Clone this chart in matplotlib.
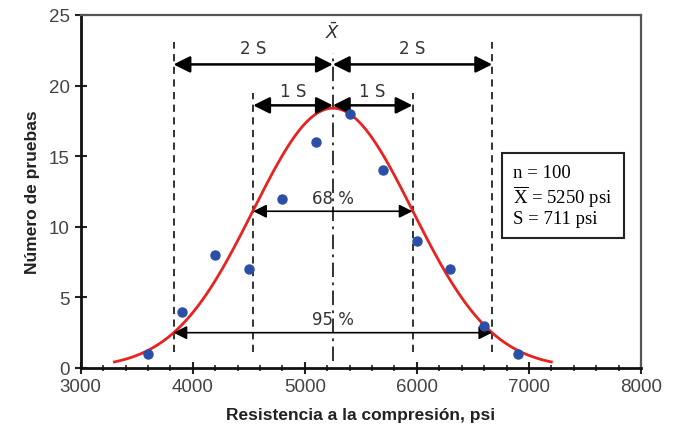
import matplotlib.pyplot as plt
import numpy as np
from matplotlib.ticker import MultipleLocator

# observed counts per strength class
strength = [3600, 3900, 4200, 4500, 4800, 5100, 5400, 5700, 6000, 6300, 6600, 6900]
n_tests = [1, 4, 8, 7, 12, 16, 18, 14, 9, 7, 3, 1]

# stats printed on the chart
n_total = 100
mean = 5250
s = 711
peak = 18.4          # curve height
curve_lo, curve_hi = 3300, 7200

fig = plt.figure(figsize=(6.75, 4.31), dpi=100)
ax = fig.add_axes([0.1196, 0.1439, 0.8300, 0.8190])

xs = np.linspace(curve_lo, curve_hi, 400)
ax.plot(xs, peak * np.exp(-0.5 * ((xs - mean) / s) ** 2), color='#e8231f', lw=2, zorder=3)
ax.plot(strength, n_tests, 'o', color='#2b4fa6', ms=6.5, zorder=4)

# vertical guides
for k in (-2, 2):
    ax.plot([mean + k * s] * 2, [1.1, 23.1], ls=(0, (4, 3)), color='#222222', lw=1.3)
for k in (-1, 1):
    ax.plot([mean + k * s] * 2, [1.1, 19.5], ls=(0, (4, 3)), color='#222222', lw=1.3)
ax.plot([mean, mean], [0.5, 22.3], ls=(0, (8, 3, 1.5, 3)), color='#222222', lw=1.3)

def darrow(x0, x1, y, lw=1.8, hw=0.5, hl=1.0):
    ax.annotate('', xy=(x1, y), xytext=(x0, y),
                arrowprops=dict(arrowstyle='<|-|>,head_width=%s,head_length=%s' % (hw, hl),
                                color='black', lw=lw, shrinkA=0, shrinkB=0))

darrow(mean - 2 * s, mean, 21.5)
darrow(mean, mean + 2 * s, 21.5)
darrow(mean - s, mean, 18.6)
darrow(mean, mean + s, 18.6)
darrow(mean - s, mean + s, 11.1, lw=1.2, hw=0.4, hl=0.8)
darrow(mean - 2 * s, mean + 2 * s, 2.5, lw=1.2, hw=0.4, hl=0.8)

lab = dict(ha='center', va='bottom', color='#333333', fontsize=12, family='DejaVu Sans')
ax.text(mean - s, 22.0, '2 S', **lab)
ax.text(mean + s, 22.0, '2 S', **lab)
ax.text(mean - s / 2, 19.0, '1 S', **lab)
ax.text(mean + s / 2, 19.0, '1 S', **lab)
ax.text(mean, 11.4, '68 %', **lab)
ax.text(mean, 2.8, '95 %', **lab)
ax.text(mean, 23.1, r'$\bar{X}$', ha='center', va='bottom', fontsize=13, color='#333333')

ax.text(6860, 12.2,
        'n = %d\n' % n_total + r'$\mathregular{\overline{X}}$' + ' = %d psi\nS = %d psi' % (mean, s),
        family='Liberation Serif', fontsize=13.5, va='center', ha='left', linespacing=1.1,
        bbox=dict(boxstyle='square,pad=0.6', fc='white', ec='#222222', lw=1.5))

ax.set_xlim(3000, 8000)
ax.set_ylim(0, 25)
ax.xaxis.set_major_locator(MultipleLocator(1000))
ax.xaxis.set_minor_locator(MultipleLocator(200))
ax.yaxis.set_major_locator(MultipleLocator(5))
ax.tick_params(axis='both', which='major', direction='inout', length=9, width=1.5,
               labelsize=13.5, labelcolor='#444444', color='#222222')
ax.tick_params(axis='x', which='minor', direction='inout', length=4, width=1.2, color='#222222')
ax.tick_params(axis='x', pad=3)
for side in ('left', 'bottom'):
    ax.spines[side].set_linewidth(2)
    ax.spines[side].set_color('#111111')
for side in ('top', 'right'):
    ax.spines[side].set_linewidth(1.6)
    ax.spines[side].set_color('#555555')

ax.set_xlabel('Resistencia a la compresión, psi', fontsize=12.5, fontweight='bold',
              family='Liberation Sans', color='#222222', labelpad=8)
ax.set_ylabel('Número de pruebas', fontsize=12.5, fontweight='bold',
              family='Liberation Sans', color='#222222', labelpad=6)
for t in ax.get_xticklabels() + ax.get_yticklabels():
    t.set_family('Liberation Sans')

fig.savefig('out.png', dpi=100)
